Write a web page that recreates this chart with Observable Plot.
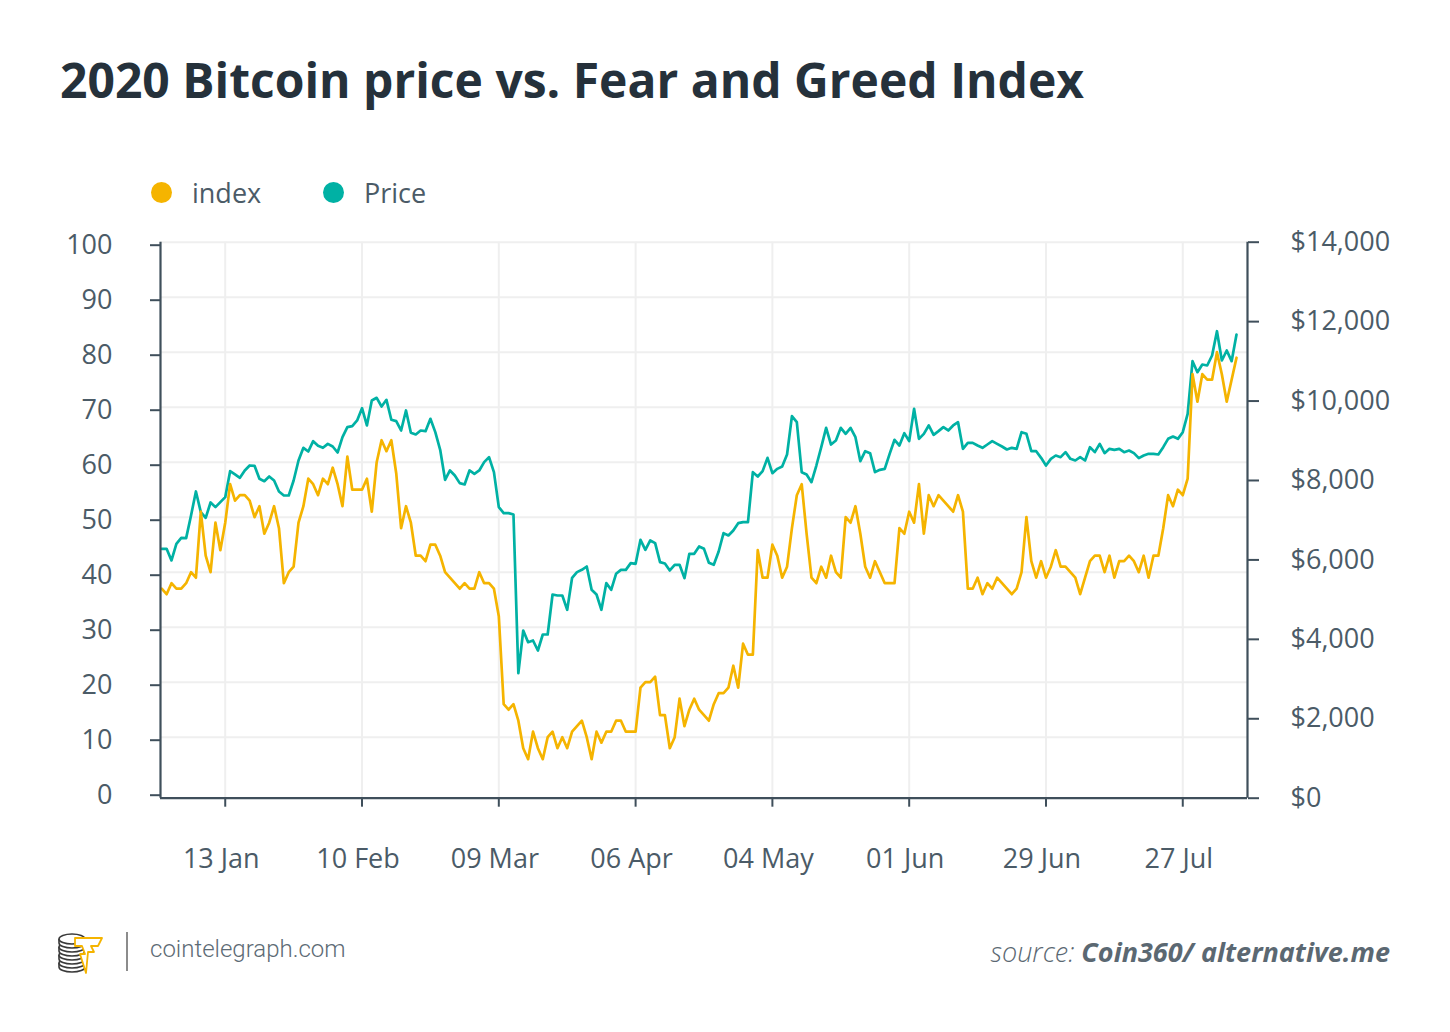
<!DOCTYPE html>
<html>
<head>
<meta charset="utf-8">
<script src="https://cdn.jsdelivr.net/npm/d3@7"></script>
<script src="https://cdn.jsdelivr.net/npm/@observablehq/plot@0.6"></script>
<style>
  html, body { margin: 0; padding: 0; background: #ffffff; }
  body { width: 1450px; height: 1032px; position: relative; overflow: hidden; font-family: "Open Sans", sans-serif; }
  #title { position: absolute; left: 60px; top: 56px; font-size: 48px; line-height: 48px; font-weight: 700; color: #25313b; white-space: nowrap; }
  .lg-dot { position: absolute; width: 21px; height: 21px; border-radius: 50%; top: 182px; }
  .lg-txt { position: absolute; top: 179px; font-size: 27px; line-height: 27px; color: #4b5b67; white-space: nowrap; }
  #chart { position: absolute; left: 0; top: 200px; }
  #sep { position: absolute; left: 126px; top: 932px; width: 2px; height: 39px; background: #8c8c8c; }
  #site { position: absolute; left: 150px; top: 937px; font-family: Roboto, sans-serif; font-weight: 300; font-size: 24px; line-height: 24px; color: #5d6b75; white-space: nowrap; }
  #source { position: absolute; right: 60px; top: 938px; font-size: 27px; line-height: 27px; font-style: italic; color: #5b6872; white-space: nowrap; }
  #source b { font-weight: 700; }
  #source span { font-weight: 300; }
</style>
</head>
<body>
<div id="title">2020 Bitcoin price vs. Fear and Greed Index</div>
<div class="lg-dot" style="left:151px;background:#f5b400"></div>
<div class="lg-txt" style="left:192px">index</div>
<div class="lg-dot" style="left:323px;background:#00b1a4"></div>
<div class="lg-txt" style="left:364px">Price</div>
<div id="chart"></div>
<svg id="logo" width="50" height="46" viewBox="0 0 50 46" style="position:absolute;left:56px;top:929px">
  <g fill="#ffffff" stroke="#3a3a3a" stroke-width="1.6">
    <path d="M3 34 v4 a13 5 0 0 0 26 0 v-4"/>
    <ellipse cx="16" cy="34" rx="13" ry="5"/>
    <path d="M3 26 v4 a13 5 0 0 0 26 0 v-4"/>
    <ellipse cx="16" cy="26" rx="13" ry="5"/>
    <path d="M3 18 v4 a13 5 0 0 0 26 0 v-4"/>
    <ellipse cx="16" cy="18" rx="13" ry="5"/>
    <path d="M3 10 v4 a13 5 0 0 0 26 0 v-4"/>
    <ellipse cx="16" cy="10" rx="13" ry="5"/>
  </g>
  <path d="M19 9 L46 9 L42 17 L35 17 L38 23 L32 23 L30 44 L24 25 L29 25 L26 17 L19 17 Z" fill="#ffffff" stroke="#f5b400" stroke-width="1.8" stroke-linejoin="round"/>
</svg>
<div id="sep"></div>
<div id="site">cointelegraph.com</div>
<div id="source"><span>source: </span><b>Coin360/ alternative.me</b></div>
<script>
// ---- data (daily, first day 2019-12-31) ----
const startDay = "2019-12-31";

const indexValues = [
  37,36,38,37,37,38,40,39,51,43,
  40,49,44,49,56,53,54,54,53,50,
  52,47,49,52,48,38,40,41,49,52,
  57,56,54,57,56,59,56,52,61,55,
  55,55,57,51,60,64,62,64,58,48,
  52,49,43,43,42,45,45,43,40,39,
  38,37,38,37,37,40,38,38,37,32,
  16,15,16,13,8,6,11,8,6,10,
  11,8,10,8,11,12,13,10,6,11,
  9,11,11,13,13,11,11,11,19,20,
  20,21,14,14,8,10,17,12,15,17,
  15,14,13,16,18,18,19,23,19,27,
  25,25,44,39,39,45,43,39,41,48,
  54,56,47,39,38,41,39,43,40,39,
  50,49,52,47,41,39,42,40,38,38,
  38,48,47,51,49,56,47,54,52,54,
  53,52,51,54,51,37,37,39,36,38,
  37,39,38,37,36,37,40,50,42,39,
  42,39,41,44,41,41,40,39,36,39,
  42,43,43,40,43,39,42,42,43,42,
  40,43,39,43,43,48,54,52,55,54,
  57,76,71,76,75,75,80,76,71,75,
  79
];

const priceValues = [
  6280,6280,5986,6405,6557,6548,7119,7723,7203,7060,
  7446,7329,7455,7580,8235,8151,8067,8250,8378,8370,
  8042,7983,8101,8000,7723,7622,7622,8000,8504,8823,
  8730,8990,8873,8823,8923,8856,8705,9091,9343,9368,
  9511,9821,9385,10014,10082,9863,10031,9528,9494,9259,
  9763,9200,9158,9259,9242,9553,9217,8772,8017,8252,
  8126,7933,7900,8252,8168,8252,8462,8588,8210,7329,
  7178,7178,7144,3149,4223,3929,3971,3719,4122,4122,
  5129,5104,5104,4743,5549,5692,5750,5834,5247,5129,
  4743,5415,5247,5650,5750,5750,5918,5902,6506,6254,
  6489,6422,5943,5910,5734,5876,5876,5541,6153,6153,
  6338,6279,5927,5876,6212,6674,6615,6741,6925,6951,
  6951,8209,8100,8235,8570,8184,8293,8352,8654,9620,
  9469,8209,8151,7958,8377,8839,9326,8906,9007,9326,
  9175,9326,9091,8487,8738,8688,8210,8268,8294,8671,
  9024,8881,9192,8990,9804,9049,9175,9385,9150,9242,
  9343,9259,9385,9469,8797,8948,8948,8881,8822,8906,
  8990,8923,8856,8780,8822,8797,9217,9175,8738,8738,
  8570,8377,8545,8629,8587,8713,8545,8503,8587,8503,
  8839,8713,8923,8688,8797,8772,8797,8713,8755,8688,
  8562,8629,8671,8671,8654,8839,9049,9107,9049,9216,
  9678,11004,10727,10920,10895,11147,11759,11021,11273,11004,
  11675
];

const dateTickStrings = ["2020-01-13","2020-02-10","2020-03-09","2020-04-06","2020-05-04","2020-06-01","2020-06-29","2020-07-27"];
const indexTicks = [0,10,20,30,40,50,60,70,80,90,100];
const priceTicks = [0,2000,4000,6000,8000,10000,12000,14000];

// ---- build tables ----
const t0 = new Date(startDay + "T00:00:00Z");
const days = indexValues.map((_, i) => d3.utcDay.offset(t0, i));
const indexData = days.map((date, i) => ({date, value: indexValues[i]}));
const priceData = days.map((date, i) => ({date, price: priceValues[i]}));
const dateTicks = dateTickStrings.map(s => new Date(s + "T00:00:00Z"));

// secondary (price) axis expressed in units of the primary y scale
const priceToY = d3.scaleLinear().domain([0, 14000]).range([-6 / 5.5, 100]);

const ORANGE = "#f5b400";
const TEAL = "#00b1a4";
const AXIS = "#3f4f5b";
const GRID = "#efefef";
const TXT = "#4b5b67";

const xDomain = [d3.utcHour.offset(t0, -5.4), d3.utcHour.offset(t0, Math.round(222.26 * 24))];
const fmtDate = d3.utcFormat("%d %b");
const fmtMoney = d3.format(",");

const chart = Plot.plot({
  width: 1450,
  height: 700,
  marginLeft: 160,
  marginRight: 203,
  marginTop: 41.7,
  marginBottom: 102.3,
  style: {fontFamily: "'Open Sans', sans-serif", fontSize: "27px", background: "transparent", overflow: "visible"},
  x: {type: "utc", domain: xDomain, axis: null},
  y: {domain: [0, 100], range: [591.7, 41.7], axis: null},
  marks: [
    Plot.ruleY(indexTicks.filter(d => d > 0), {stroke: GRID, strokeWidth: 2}),
    Plot.ruleX(dateTicks, {x: d => d, y1: () => priceToY(0), y2: () => 100, stroke: GRID, strokeWidth: 2}),
    Plot.line(priceData, {x: "date", y: d => priceToY(d.price), stroke: TEAL, strokeWidth: 2.7}),
    Plot.line(indexData, {x: "date", y: "value", stroke: ORANGE, strokeWidth: 2.7}),
    Plot.ruleX([xDomain[0]], {x: d => d, y1: () => priceToY(0), y2: () => 100, stroke: AXIS, strokeWidth: 2.2}),
    Plot.ruleX([xDomain[1]], {x: d => d, y1: () => priceToY(0), y2: () => 100, stroke: AXIS, strokeWidth: 2.2}),
    Plot.ruleY([priceToY(0)], {y: d => d, stroke: AXIS, strokeWidth: 2.2}),
    Plot.axisY({
      anchor: "left", ticks: indexTicks, tickSize: 10, tickPadding: 38,
      fontSize: 27, color: AXIS, fill: TXT, strokeWidth: 2, dy: 3, label: null
    }),
    Plot.axisY({
      anchor: "right", ticks: priceTicks.map(p => priceToY(p)),
      tickFormat: v => "$" + fmtMoney(Math.round(priceToY.invert(v))),
      tickSize: 11, tickPadding: 32, fontSize: 27, color: AXIS, fill: TXT, strokeWidth: 2, label: null
    }),
    // bottom tick marks
    Plot.axisX({
      anchor: "bottom", ticks: dateTicks, tickFormat: () => "",
      tickSize: 9, color: AXIS, strokeWidth: 2, label: null
    }),
    // bottom tick labels
    Plot.axisX({
      anchor: "bottom", ticks: dateTicks, tickFormat: fmtDate,
      tickSize: 0, tickPadding: 51, fontSize: 27, fill: TXT, stroke: "none", dx: -4, label: null
    })
  ]
});
document.getElementById("chart").appendChild(chart);
</script>
</body>
</html>
